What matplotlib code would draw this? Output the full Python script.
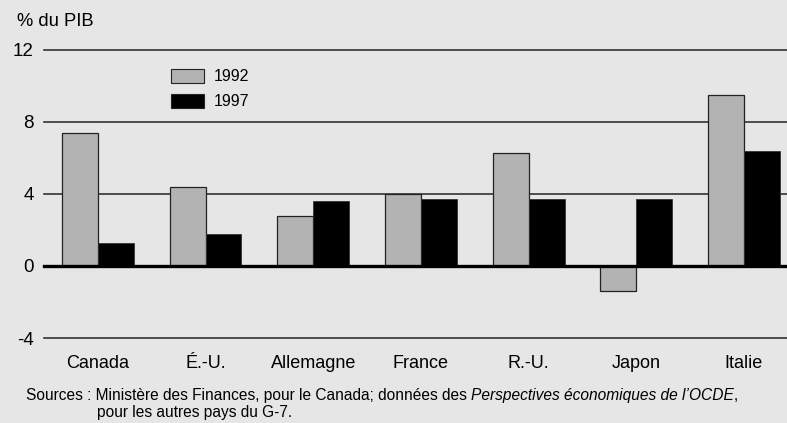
import matplotlib
matplotlib.use("Agg")
import matplotlib.pyplot as plt
import numpy as np
from matplotlib.patches import Rectangle

plt.rcParams['font.family'] = ['Liberation Sans', 'DejaVu Sans']

countries = ["Canada", "É.-U.", "Allemagne", "France", "R.-U.", "Japon", "Italie"]
years = ["1992", "1997"]
vals_1992 = [7.4, 4.4, 2.8, 4.0, 6.3, -1.4, 9.5]
vals_1997 = [1.3, 1.8, 3.6, 3.7, 3.7, 3.7, 6.4]
yticks = [-4, 0, 4, 8, 12]
ylabel = "% du PIB"
source1 = "Sources : Ministère des Finances, pour le Canada; données des "
source_it = "Perspectives économiques de l’OCDE"
source2 = ","
source3 = "pour les autres pays du G-7."

BG = "#e6e6e6"
GRAY = "#b3b3b3"

W, H = 787, 423
fig = plt.figure(figsize=(W/100, H/100), dpi=100, facecolor=BG)
ax = fig.add_axes([44/W, (H-338)/H, 1-44/W, (338-50)/H])
ax.set_facecolor(BG)

x = np.arange(len(countries))
bw = 0.334
ax.bar(x - bw/2, vals_1992, bw, color=GRAY, edgecolor="#222222", linewidth=0.9, zorder=3)
ax.bar(x + bw/2, vals_1997, bw, color="black", edgecolor="#333333", linewidth=0.6, zorder=3)

ax.set_xlim(-0.5, 6.4)
ax.set_ylim(-4, 12)
for yv in yticks:
    if yv == 0:
        ax.axhline(0, color="black", lw=2.4, zorder=4, clip_on=False)
    else:
        ax.axhline(yv, color="#333333", lw=1.2, zorder=1, clip_on=False)

for s in ax.spines.values():
    s.set_visible(False)
ax.set_yticks(yticks)
ax.set_yticklabels([str(t) for t in yticks], fontsize=13.5)
ax.tick_params(axis='y', length=0, pad=7.2)
ax.set_xticks(x)
ax.set_xticklabels(countries, fontsize=13)
ax.tick_params(axis='x', length=0, pad=12)

fig.text(17/W, (H-26.5)/H, ylabel, fontsize=13.2, ha='left', va='baseline')

# legend
for i, (lab, col) in enumerate(zip(years, [GRAY, "black"])):
    y0 = 69 + i*24.5
    fig.patches.append(Rectangle((171/W, (H-y0-14.5)/H), 33/W, 14.5/H, transform=fig.transFigure,
                                 facecolor=col, edgecolor="#222222", lw=0.8, figure=fig))
    fig.text(214/W, (H-y0-7.5)/H, lab, fontsize=11.5, ha='left', va='center')

t1 = fig.text(26/W, (H-400)/H, source1, fontsize=11.2, ha='left', va='baseline')
a2 = ax.annotate(source_it, xy=(1, 0), xycoords=t1, fontsize=11.2, style='italic',
                 ha='left', va='bottom', annotation_clip=False)
a3 = ax.annotate(source2, xy=(1, 0), xycoords=a2, fontsize=11.2, ha='left', va='bottom',
                 annotation_clip=False)
fig.text(97/W, (H-417)/H, source3, fontsize=11.2, ha='left', va='baseline')

fig.savefig("out.png", dpi=100, facecolor=BG)
